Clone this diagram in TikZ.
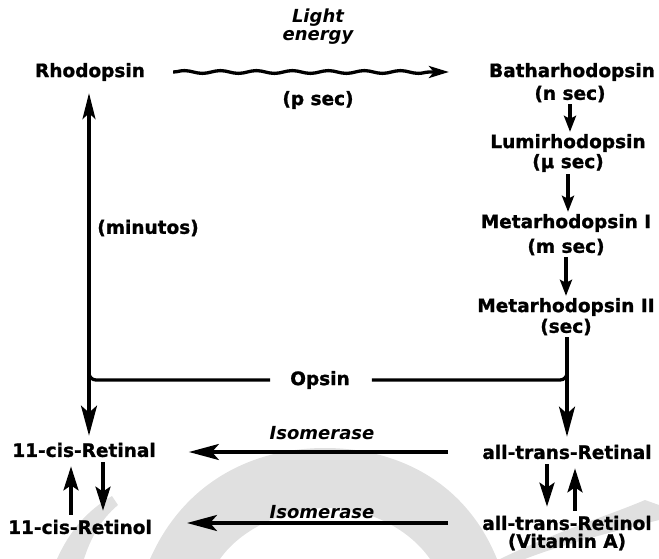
\documentclass[tikz,border=0pt]{standalone}
\usepackage{fontspec}
\setmainfont{DejaVu Sans}[BoldFeatures={FakeBold=1.2}]
\usetikzlibrary{arrows.meta,calc,decorations.pathmorphing}
\definecolor{wmgray}{gray}{0.88}
\newcommand{\wmdome}{(150,559) .. controls (185,480) and (255,448) .. (325,448) .. controls (395,448) and (465,480) .. (497,559) -- (430,559) .. controls (410,530) and (370,508) .. (327,508) .. controls (284,508) and (240,530) .. (220,559) -- cycle}
\newcommand{\wmleft}{(57,559) .. controls (70,530) and (88,510) .. (112,496) -- (118,505) .. controls (100,520) and (90,540) .. (84,559) -- cycle}
\newcommand{\wmright}{(500,559) .. controls (560,530) and (610,515) .. (645,500) -- (659,505) -- (659,520) .. controls (620,530) and (560,545) .. (525,559) -- cycle}

\begin{document}
\begin{tikzpicture}[x=1pt,y=-1pt,
    lbl/.style={font=\fontsize{18.5}{18}\selectfont\bfseries, inner sep=2pt},
    slbl/.style={lbl, font=\fontsize{18}{18}\selectfont\bfseries\itshape},
    flow/.style={line width=3.3pt, -{Stealth[length=30pt,width=16pt,inset=7pt]}},
    hop/.style={line width=3.3pt, -{Stealth[length=16pt,width=12pt,inset=3pt]}},
    swap/.style={line width=3.3pt, -{Stealth[length=24pt,width=15pt,inset=5pt]}, shorten <=3pt, shorten >=7pt}]
  \useasboundingbox (0,0) rectangle (659,559);
  % scan watermark
  \fill[wmgray] \wmdome; \fill[wmgray] \wmleft; \fill[wmgray] \wmright;

  % pigments
  \node[lbl] (rho) at (90,72) {Rhodopsin};
  \node[slbl, align=center] (light) at (318,27) {Light\\energy};
  \node[lbl] (psec) at (318,100) {(p sec)};
  \node[lbl] (batha) at (572,72) {Batharhodopsin};
  \node[lbl] (bsec) at (570,94) {(n sec)};
  \node[lbl] (lumi) at (568,143) {Lumirhodopsin};
  \node[lbl] (lsec) at (568,163) {(µ sec)};
  \node[lbl] (metaI) at (566,223) {Metarhodopsin I};
  \node[lbl] (msec) at (566,247) {(m sec)};
  \node[lbl] (metaII) at (566,307) {Metarhodopsin II};
  \node[lbl] (ssec) at (566,327) {(sec)};
  \node[lbl] (opsin) at (320,380) {Opsin};
  \node[lbl] (minutos) at (148,228) {(minutos)};
  % retinoids
  \node[lbl] (cisal) at (84,450) {11-cis-Retinal};
  \node[lbl] (cisol) at (80,527) {11-cis-Retinol};
  \node[lbl] (transal) at (567,452) {all-trans-Retinal};
  \node[lbl] (transol) at (567,523) {all-trans-Retinol};
  \node[lbl] (vita) at (567,542) {(Vitamin A)};
  \node[slbl] (iso1) at (322,433) {Isomerase};
  \node[slbl] (iso2) at (322,512) {Isomerase};

  \coordinate (jl) at (89,364);
  \coordinate (jr) at (567,364);
  \coordinate (w1) at ($(rho.east)+(26,0)$);
  \coordinate (w2) at ($(batha.west)+(-38,0)$);

  \draw[line width=3.3pt, -{Stealth[length=20pt,width=12pt,inset=5pt]}, decorate,
        decoration={snake, amplitude=1.4pt, segment length=36pt, post length=18pt}] (w1) -- (w2);
  \draw[hop] (bsec.south) -- (bsec.south |- lumi.north);
  \draw[hop] (lsec.south) -- (lsec.south |- metaI.north);
  \draw[hop] (msec.south) -- (msec.south |- metaII.north);
  \draw[flow, shorten >=6pt] (jr |- ssec.south) -- (jr |- transal.north);
  \draw[flow, {Stealth[length=26pt,width=13pt,inset=6pt]}-{Stealth[length=30pt,width=16pt,inset=7pt]}, shorten >=5pt]
        ([yshift=-10pt]jl |- rho.south) -- (jl |- cisal.north);
  \draw[line width=3.3pt, rounded corners=7pt, shorten <=18pt] (opsin.west) -| (jl);
  \draw[line width=3.3pt, rounded corners=7pt, shorten <=20pt] (opsin.east) -| (jr);
  \draw[flow, shorten <=32pt, shorten >=31pt] (transal.west) -- (cisal.east |- transal.west);
  \draw[flow, shorten <=32pt, shorten >=33pt] (transol.west) -- (cisol.east |- transol.west);
  % reversible steps
  \draw[swap] ([xshift=-9pt]cisol.north) -- ([xshift=-9pt]cisol.north |- cisal.south);
  \draw[swap] ([xshift=19pt]cisal.south) -- ([xshift=19pt]cisal.south |- cisol.north);
  \draw[swap] ([xshift=-20pt]transal.south) -- ([xshift=-20pt]transal.south |- transol.north);
  \draw[swap] ([xshift=8pt]transol.north) -- ([xshift=8pt]transol.north |- transal.south);
\end{tikzpicture}
\end{document}
